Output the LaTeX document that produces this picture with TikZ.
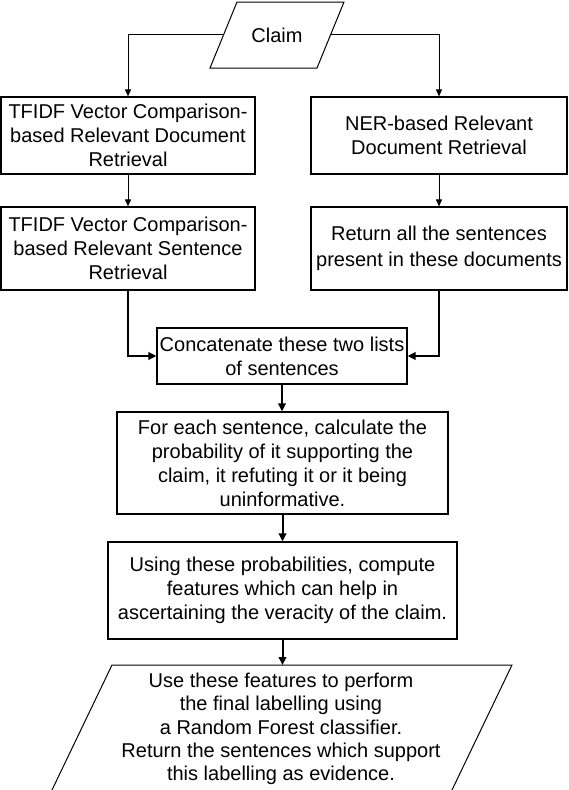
\documentclass[tikz,border=0pt]{standalone}
\usepackage{fontspec}
\setmainfont{Liberation Sans}
\usetikzlibrary{arrows.meta}
\begin{document}
\begin{tikzpicture}[x=1pt,y=-1pt,
  box/.style={draw, line width=1.2pt, align=center, inner sep=0pt, font=\fontsize{20}{24}\selectfont},
  txt/.style={align=center, inner sep=0pt, font=\fontsize{20}{24}\selectfont},
  thinarrow/.style={line width=1pt, -{Triangle[length=7pt,width=6pt]}},
  thickarrow/.style={line width=2pt, -{Triangle[length=8pt,width=7.5pt]}},
  shapeline/.style={line width=1pt}]
\useasboundingbox (0,0) rectangle (568,790);
\fill[white] (0,0) rectangle (568,790);

% Claim parallelogram
\draw[shapeline] (210,68) -- (237,2) -- (344,2) -- (317,68) -- cycle;
\coordinate (cl) at (223.5,34);
\coordinate (cr) at (330.5,34);
\node[txt] (claim) at (277,35) {Claim};

\node[box, minimum width=254pt, minimum height=77pt] (b1) at (128,135.5)
  {TFIDF Vector Comparison-\\based Relevant Document\\Retrieval};
\node[box, minimum width=256pt, minimum height=77pt] (b2) at (439,135.5)
  {NER-based Relevant\\Document Retrieval};
\node[box, minimum width=254pt, minimum height=83pt] (b3) at (128,248.5)
  {TFIDF Vector Comparison-\\based Relevant Sentence\\Retrieval};
\node[box, minimum width=256pt, minimum height=83pt, font=\fontsize{20}{26}\selectfont] (b4) at (439,248.5)
  {\raisebox{-2pt}{Return all the sentences}\\\raisebox{-2pt}{present in these documents}};
\node[box, minimum width=250pt, minimum height=56pt] (cc) at (282,356)
  {Concatenate these two lists\\of sentences};
\node[box, minimum width=331pt, minimum height=102pt] (pr) at (282.5,463)
  {For each sentence, calculate the\\probability of it supporting the\\claim, it refuting it or it being\\uninformative.};
\node[box, minimum width=349pt, minimum height=97pt] (ft) at (282.5,590.5)
  {Using these probabilities, compute\\features which can help in\\ascertaining the veracity of the claim.};

% Final parallelogram (bottom runs off the page)
\draw[shapeline] (112,665) -- (512,665) -- (449.6,795) -- (49.6,795) -- cycle;
\coordinate (fn) at (282.5,665);
\node[txt, font=\fontsize{20}{23.2}\selectfont] (fin) at (281,729)
  {Use these features to perform\\the final labelling using\\a Random Forest classifier.\\Return the sentences which support\\this labelling as evidence.};

% connectors
\draw[thinarrow] (cl) -| (b1.north);
\draw[thinarrow] (cr) -| (b2.north);
\draw[thinarrow] (b1.south) -- (b1.south |- b3.north);
\draw[thinarrow] (b2.south) -- (b2.south |- b4.north);
\draw[thickarrow] (b3.south) |- (cc.west);
\draw[thickarrow] (b4.south) |- (cc.east);
\draw[thickarrow] (cc.south) -- (cc.south |- pr.north);
\draw[thickarrow] (pr.south) -- (pr.south |- ft.north);
\draw[thickarrow] (ft.south) -- (ft.south |- fn);
\end{tikzpicture}
\end{document}
